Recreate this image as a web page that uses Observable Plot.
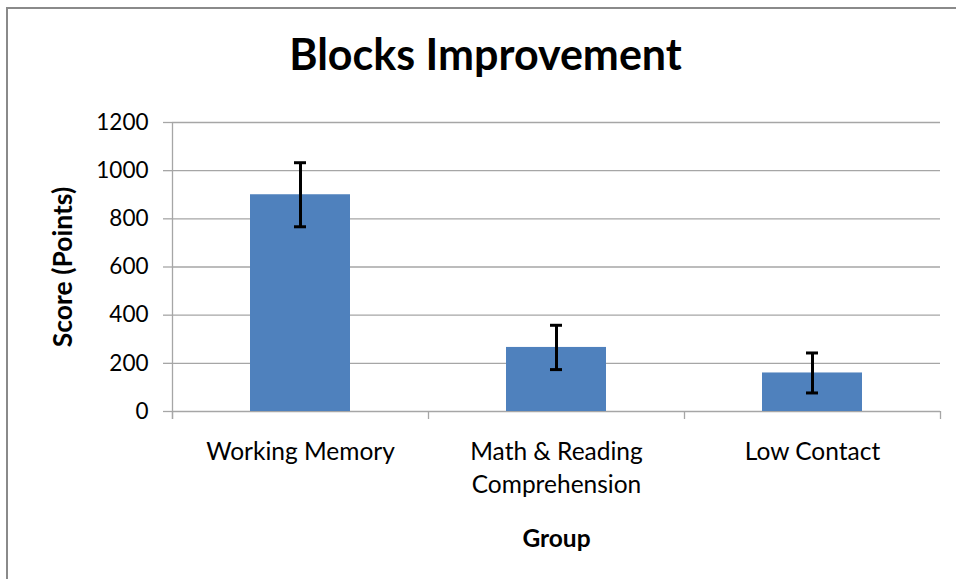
<!DOCTYPE html>
<html>
<head>
<meta charset="utf-8">
<script src="https://cdn.jsdelivr.net/npm/d3@7"></script>
<script src="https://cdn.jsdelivr.net/npm/@observablehq/plot@0.6"></script>
<style>
  html, body { margin: 0; padding: 0; background: #fff; width: 956px; height: 579px; overflow: hidden; }
  #frame { position: absolute; left: 6px; top: 7px; width: 1200px; height: 800px; z-index: 10; pointer-events: none;
           border-left: 2px solid #8a8a8a; border-top: 2px solid #8a8a8a; }
  #title { position: absolute; left: 0; top: 0; width: 956px; height: 100px; box-sizing: border-box;
           text-align: center; font-family: Lato, sans-serif; font-weight: bold; font-size: 43px;
           line-height: 43px; padding-top: 32px; padding-left: 15px; color: #000; }
  #chart { position: absolute; left: 0; top: 100px; }
</style>
</head>
<body>
<div id="frame"></div>
<div id="title">Blocks Improvement</div>
<div id="chart"></div>
<script>
const groups = ["Working Memory", "Math & Reading Comprehension", "Low Contact"];
const groupLabels = ["Working Memory", "Math & Reading\nComprehension", "Low Contact"];
const scores = [900, 266, 160];
const errors = [133, 92, 83];
const yTicks = [0, 200, 400, 600, 800, 1000, 1200];
const yLabel = "Score (Points)";
const xLabel = "Group";

const data = groups.map((g, i) => ({group: g, score: scores[i], err: errors[i]}));
const labelOf = new Map(groups.map((g, i) => [g, groupLabels[i]]));

const W = 956, H = 479, mL = 172, mR = 16, mT = 22, mB = 168;
const step = (W - mL - mR) / groups.length;
const grid = "#a6a6a6";

const chart = Plot.plot({
  width: W, height: H,
  marginLeft: mL, marginRight: mR, marginTop: mT, marginBottom: mB,
  style: {fontFamily: "Lato, sans-serif", background: "white", color: "#000"},
  x: {domain: groups, paddingInner: 0.61, paddingOuter: 0.305, label: null},
  y: {domain: [0, 1200], label: null},
  marks: [
    Plot.gridY(yTicks, {stroke: grid, strokeOpacity: 1, strokeWidth: 1.3}),
    Plot.axisY({ticks: yTicks, tickFormat: d3.format("d"), tickSize: 9, tickPadding: 15, fontSize: 22.5, stroke: grid, strokeOpacity: 1, strokeWidth: 1.3, label: null, fill: "#000"}),
    Plot.axisX({tickSize: 0, tickPadding: 25, fontSize: 24.5, lineHeight: 1.35, tickFormat: d => labelOf.get(d), label: null, fill: "#000"}),
    // y axis line
    Plot.ruleX([groups[0]], {dx: -step / 2, stroke: grid, strokeWidth: 1.3, insetBottom: -8}),
    // category boundary ticks
    Plot.ruleX(groups, {dx: -step / 2, y1: 0, y2: 0, insetTop: 8, stroke: grid, strokeWidth: 1.3}),
    Plot.ruleX([groups[groups.length - 1]], {dx: step / 2, y1: 0, y2: 0, insetTop: 8, stroke: grid, strokeWidth: 1.3}),
    Plot.barY(data, {x: "group", y: "score", fill: "#4f81bd"}),
    Plot.ruleX(data, {x: "group", y1: d => d.score - d.err, y2: d => d.score + d.err, stroke: "#000", strokeWidth: 3}),
    Plot.tickY(data, {x: "group", y: d => d.score - d.err, stroke: "#000", strokeWidth: 3, insetLeft: 44, insetRight: 44}),
    Plot.tickY(data, {x: "group", y: d => d.score + d.err, stroke: "#000", strokeWidth: 3, insetLeft: 44, insetRight: 44}),
    Plot.text([yLabel], {frameAnchor: "left", textAnchor: "middle", rotate: -90, dx: -109, fontSize: 26.5, fontWeight: "bold", fill: "#000"}),
    Plot.text([xLabel], {frameAnchor: "bottom", dy: 135, fontSize: 24.5, fontWeight: "bold", fill: "#000"})
  ]
});
document.getElementById("chart").appendChild(chart);
</script>
</body>
</html>
